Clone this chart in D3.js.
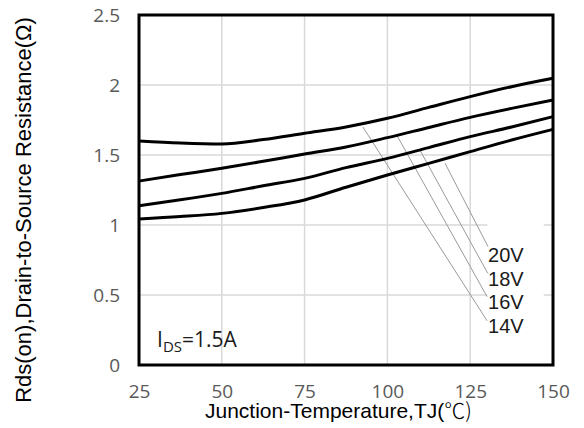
<!DOCTYPE html>
<html>
<head>
<meta charset="utf-8">
<script src="https://cdn.jsdelivr.net/npm/d3@7"></script>
<style>
	body { margin: 0; background: #fff; }
	.tick text { font-family: "Open Sans", sans-serif; font-size: 19px; fill: #595959; }
	.grid line { stroke: #d9d9d9; stroke-width: 1.5; }
</style>
</head>
<body>
<script>
	// temperatures (x) and Rds(on) per gate voltage
	var temps = [25, 37.5, 50, 62.5, 75, 87.5, 100, 112.5, 125, 137.5, 150];
	var rds14 = [1.60, 1.585, 1.578, 1.61, 1.655, 1.70, 1.762, 1.84, 1.917, 1.988, 2.048];
	var rds16 = [1.314, 1.36, 1.405, 1.455, 1.507, 1.557, 1.624, 1.697, 1.769, 1.833, 1.893];
	var rds18 = [1.138, 1.18, 1.226, 1.28, 1.333, 1.41, 1.476, 1.553, 1.631, 1.70, 1.774];
	var rds20 = [1.043, 1.06, 1.083, 1.125, 1.179, 1.27, 1.357, 1.44, 1.524, 1.607, 1.683];

	var xTicks = [25, 50, 75, 100, 125, 150];
	var yTicks = [0, 0.5, 1, 1.5, 2, 2.5];

	// callout labels: leader start on the curve, leader end and label anchor
	var labels = ["14V", "16V", "18V", "20V"];
	var leadFromT = [92.6, 102.8, 109.8, 117.4];
	var leadFromR = [1.70, 1.643, 1.536, 1.441];
	var leadToT = [130.1, 130.1, 130.3, 130.4];
	var leadToR = [0.316, 0.488, 0.655, 0.845];
	var labelR = [0.231, 0.400, 0.566, 0.738];

	var margin = { top: 15, right: 31, bottom: 63, left: 139 };
	var width = 584 - margin.left - margin.right;
	var height = 428 - margin.top - margin.bottom;

	var svg = d3.select("body").append("svg")
		.attr("width", 584)
		.attr("height", 428);

	var g = svg.append("g")
		.attr("transform", "translate(" + margin.left + "," + margin.top + ")");

	var x = d3.scaleLinear().domain([25, 150]).range([0, width]);
	var y = d3.scaleLinear().domain([0, 2.5]).range([height, 0]);

	// grid
	g.append("g").attr("class", "grid")
		.selectAll("line").data([0.5, 1, 1.5, 2]).enter().append("line")
		.attr("x1", 0).attr("x2", width)
		.attr("y1", function(d) { return y(d); })
		.attr("y2", function(d) { return y(d); });
	g.append("g").attr("class", "grid")
		.selectAll("line").data([50, 75, 100, 125]).enter().append("line")
		.attr("y1", 0).attr("y2", height)
		.attr("x1", function(d) { return x(d); })
		.attr("x2", function(d) { return x(d); });

	// white patch behind the voltage labels
	g.append("rect")
		.attr("x", x(130.2)).attr("y", y(1.03))
		.attr("width", x(147.2) - x(130.2))
		.attr("height", y(0.22) - y(1.03))
		.attr("fill", "#fff");

	// axes
	g.append("g")
		.attr("transform", "translate(0," + height + ")")
		.call(d3.axisBottom(x).tickValues(xTicks).tickSize(0).tickPadding(20).tickFormat(d3.format("d")))
		.call(function(a) { a.select(".domain").remove(); });

	g.append("g")
		.call(d3.axisLeft(y).tickValues(yTicks).tickSize(0).tickPadding(19).tickFormat(function(d) { return String(d); }))
		.call(function(a) { a.select(".domain").remove(); });

	// leader lines
	g.selectAll(".leader").data(labels).enter().append("line")
		.attr("class", "leader")
		.attr("x1", function(d, i) { return x(leadFromT[i]); })
		.attr("y1", function(d, i) { return y(leadFromR[i]); })
		.attr("x2", function(d, i) { return x(leadToT[i]); })
		.attr("y2", function(d, i) { return y(leadToR[i]); })
		.attr("stroke", "#9a9a9a")
		.attr("stroke-width", 1);

	// curves
	var line = d3.line()
		.x(function(d, i) { return x(temps[i]); })
		.y(function(d) { return y(d); })
		.curve(d3.curveMonotoneX);

	g.selectAll(".curve").data([rds14, rds16, rds18, rds20]).enter().append("path")
		.attr("class", "curve")
		.attr("d", line)
		.attr("fill", "none")
		.attr("stroke", "#000")
		.attr("stroke-width", 3);

	// frame
	g.append("rect")
		.attr("x", 0).attr("y", 0)
		.attr("width", width).attr("height", height)
		.attr("fill", "none")
		.attr("stroke", "#000")
		.attr("stroke-width", 3);

	// voltage labels
	g.selectAll(".vlabel").data(labels).enter().append("text")
		.attr("class", "vlabel")
		.attr("x", x(130.4))
		.attr("y", function(d, i) { return y(labelR[i]); })
		.style("font-family", "'Liberation Sans', Arial, sans-serif")
		.style("font-size", "20px")
		.attr("fill", "#1a1a1a")
		.text(function(d) { return d; });

	// IDS note
	var ids = g.append("text")
		.attr("x", 18)
		.attr("y", y(0.131))
		.style("font-family", "'Open Sans', sans-serif")
		.style("font-size", "21px")
		.attr("fill", "#1a1a1a");
	ids.append("tspan").text("I");
	ids.append("tspan").attr("dy", 5).style("font-size", "15px").text("DS");
	ids.append("tspan").attr("dy", -5).text("=1.5A");

	// axis titles
	var xt = svg.append("text")
		.attr("x", 205)
		.attr("y", 418)
		.style("font-family", "'Liberation Sans', Arial, sans-serif")
		.style("font-size", "21px")
		.attr("fill", "#000");
	xt.append("tspan").text("Junction-Temperature,TJ(");
	xt.append("tspan").style("font-family", "'Noto Sans CJK SC', sans-serif").style("font-weight", 300).text("℃)");

	svg.append("text")
		.attr("transform", "translate(31,210) rotate(-90)")
		.attr("text-anchor", "middle")
		.style("font-family", "'Liberation Sans', Arial, sans-serif")
		.style("font-size", "22px")
		.attr("fill", "#000")
		.text("Rds(on),Drain-to-Source Resistance(Ω)");
</script>
</body>
</html>
